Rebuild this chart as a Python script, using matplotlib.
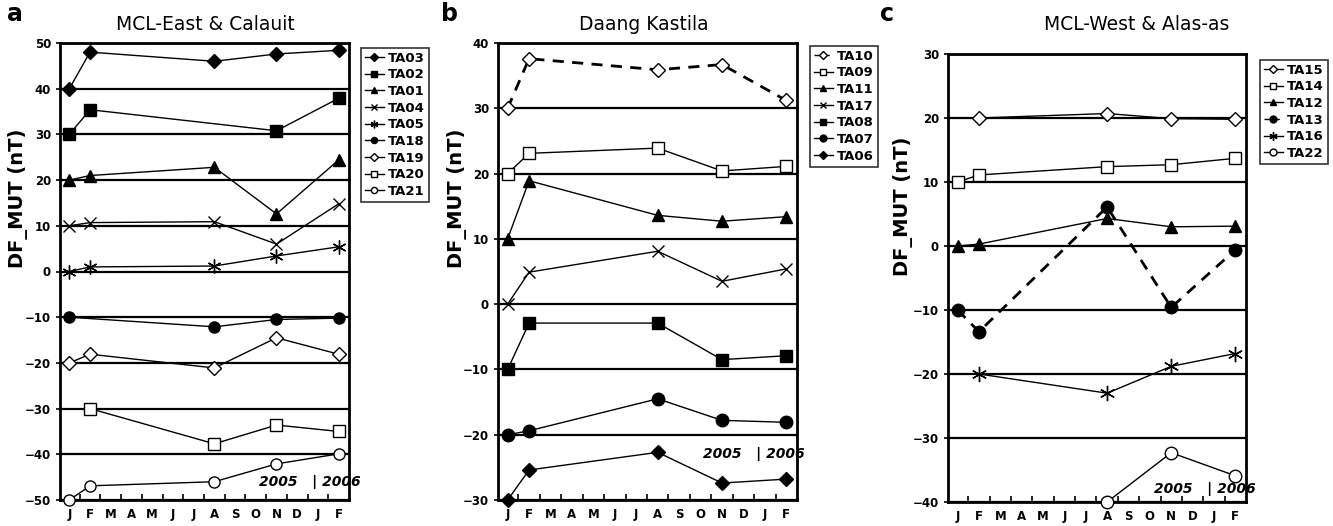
import numpy as np
import matplotlib
matplotlib.use("Agg")
import matplotlib.pyplot as plt

# month axis: Jan 2005 .. Feb 2006
month_labels = ["J", "F", "M", "A", "M", "J", "J", "A", "S", "O", "N", "D", "J", "F"]
JAN, FEB, AUG, NOV, FEB2 = 0, 1, 7, 10, 13

# panel a: MCL-East & Calauit
a_names = ["TA03", "TA02", "TA01", "TA04", "TA05", "TA18", "TA19", "TA20", "TA21"]
a_x = {
    "TA03": [JAN, FEB, AUG, NOV, FEB2],
    "TA02": [JAN, FEB, NOV, FEB2],
    "TA01": [JAN, FEB, AUG, NOV, FEB2],
    "TA04": [JAN, FEB, AUG, NOV, FEB2],
    "TA05": [JAN, FEB, AUG, NOV, FEB2],
    "TA18": [JAN, AUG, NOV, FEB2],
    "TA19": [JAN, FEB, AUG, NOV, FEB2],
    "TA20": [FEB, AUG, NOV, FEB2],
    "TA21": [JAN, FEB, AUG, NOV, FEB2],
}
a_y = {
    "TA03": [40, 48, 46, 47.6, 48.4],
    "TA02": [30, 35.4, 30.8, 37.9],
    "TA01": [20, 21, 22.8, 12.6, 24.4],
    "TA04": [10, 10.7, 10.9, 6.0, 14.8],
    "TA05": [0, 1.0, 1.2, 3.4, 5.4],
    "TA18": [-10, -12.1, -10.5, -10.2],
    "TA19": [-20, -18.1, -21.1, -14.5, -18.1],
    "TA20": [-30, -37.7, -33.6, -35.0],
    "TA21": [-50, -46.9, -46.0, -42.1, -39.9],
}

# panel b: Daang Kastila
b_names = ["TA10", "TA09", "TA11", "TA17", "TA08", "TA07", "TA06"]
b_x = {n: [JAN, FEB, AUG, NOV, FEB2] for n in b_names}
b_y = {
    "TA10": [30, 37.6, 35.9, 36.7, 31.2],
    "TA09": [20, 23.1, 23.9, 20.4, 21.1],
    "TA11": [10, 18.9, 13.6, 12.7, 13.4],
    "TA17": [0, 4.9, 8.1, 3.5, 5.4],
    "TA08": [-10, -2.9, -2.9, -8.5, -7.9],
    "TA07": [-20, -19.4, -14.5, -17.8, -18.1],
    "TA06": [-30, -25.4, -22.7, -27.4, -26.8],
}

# panel c: MCL-West & Alas-as
c_names = ["TA15", "TA14", "TA12", "TA13", "TA16", "TA22"]
c_x = {
    "TA15": [FEB, AUG, NOV, FEB2],
    "TA14": [JAN, FEB, AUG, NOV, FEB2],
    "TA12": [JAN, FEB, AUG, NOV, FEB2],
    "TA13": [JAN, FEB, AUG, NOV, FEB2],
    "TA16": [FEB, AUG, NOV, FEB2],
    "TA22": [AUG, NOV, FEB2],
}
c_y = {
    "TA15": [20, 20.7, 19.9, 19.8],
    "TA14": [10, 11.1, 12.4, 12.7, 13.7],
    "TA12": [0, 0.3, 4.3, 3.0, 3.1],
    "TA13": [-10, -13.4, 6.1, -9.6, -0.6],
    "TA16": [-20, -23.0, -18.8, -16.8],
    "TA22": [-40, -32.3, -35.9],
}

AST = (6, 2, 0)  # six-armed asterisk
# marker styles: (marker, filled, size, linestyle)
styles = {
    "TA03": ("D", True, 7, "-"), "TA02": ("s", True, 8, "-"), "TA01": ("^", True, 8, "-"),
    "TA04": ("x", True, 8, "-"), "TA05": (AST, True, 10, "-"), "TA18": ("o", True, 8, "-"),
    "TA19": ("D", False, 7, "-"), "TA20": ("s", False, 8, "-"), "TA21": ("o", False, 8, "-"),
    "TA10": ("D", False, 7, "--"), "TA09": ("s", False, 9, "-"), "TA11": ("^", True, 8, "-"),
    "TA17": ("x", True, 9, "-"), "TA08": ("s", True, 9, "-"), "TA07": ("o", True, 9, "-"),
    "TA06": ("D", True, 7, "-"),
    "TA15": ("D", False, 7, "-"), "TA14": ("s", False, 9, "-"), "TA12": ("^", True, 8, "-"),
    "TA13": ("o", True, 9, "--"), "TA16": (AST, True, 11, "-"), "TA22": ("o", False, 9, "-"),
}

W, H = 1333, 526
fig = plt.figure(figsize=(W / 100, H / 100), dpi=100)


def px(x0, y0, x1, y1):
    return [x0 / W, 1 - y1 / H, (x1 - x0) / W, (y1 - y0) / H]


def panel(rect, names, xs, ys, ylim, leg_xy, letter_x, title, title_x, yr_x, yr_y, ylab_x):
    ax = fig.add_axes(px(*rect))
    for y in range(ylim[0], ylim[1] + 1, 10):
        ax.axhline(y, color="black", lw=1.6, zorder=1)
    for n in names:
        m, filled, ms, ls = styles[n]
        dashed = ls == "--"
        ax.plot(xs[n], ys[n], color="black", lw=2.0 if dashed else 1.0, ls=ls,
                dashes=(4, 3) if dashed else (None, None),
                marker=m, ms=ms, mfc="black" if filled else "white", mec="black", mew=1.0,
                label=n, zorder=3, clip_on=False)
    ax.set_xlim(-0.45, 13.5)
    ax.set_ylim(*ylim)
    ax.set_yticks(range(ylim[0], ylim[1] + 1, 10))
    ax.set_xticks(range(14))
    ax.set_xticklabels(month_labels)
    ax.set_xticks(np.arange(0.5, 13, 1), minor=True)
    ax.tick_params(axis="x", which="major", length=0, pad=6)
    ax.tick_params(axis="x", which="minor", direction="in", length=4, width=1.2)
    ax.tick_params(axis="y", length=3, width=1.2)
    for lab in ax.get_xticklabels() + ax.get_yticklabels():
        lab.set_fontweight("bold")
        lab.set_fontsize(8.5)
    for s in ax.spines.values():
        s.set_linewidth(2)
    ax.set_ylabel("DF_MUT (nT)", fontsize=14, fontweight="bold")
    ax.yaxis.set_label_coords(ylab_x, 0.66)
    ax.text(yr_x, yr_y, "2005   | 2006", transform=ax.transAxes, fontsize=10,
            fontstyle="italic", fontweight="bold", ha="left", va="center")
    leg = ax.legend(loc="upper left", bbox_to_anchor=(leg_xy[0] / W, 1 - leg_xy[1] / H),
                    bbox_transform=fig.transFigure, frameon=True, fancybox=False,
                    edgecolor="black", fontsize=9.5, handlelength=1.5, handletextpad=0.3,
                    borderpad=0.3, labelspacing=0.28, markerscale=0.55)
    leg.get_frame().set_linewidth(1.2)
    for t in leg.get_texts():
        t.set_fontweight("bold")
    for h in leg.get_lines():
        h.set_linewidth(1.0)
    fig.text(letter_x / W, 1 - 14 / H, title[0], fontsize=17, fontweight="bold", ha="left", va="center")
    fig.text(title_x / W, 1 - 24 / H, title[1], fontsize=13.5, ha="center", va="center")
    return ax


panel((60, 43, 349, 500), a_names, a_x, a_y, (-50, 50), (354, 41), 7,
      ("a", "MCL-East & Calauit"), 205, 0.69, 0.04, -0.11)
panel((498, 43, 797, 500), b_names, b_x, b_y, (-30, 40), (803, 39), 441,
      ("b", "Daang Kastila"), 644, 0.685, 0.10, -0.105)
panel((948, 54, 1246, 502), c_names, c_x, c_y, (-40, 30), (1253, 53), 880,
      ("c", "MCL-West & Alas-as"), 1137, 0.69, 0.03, -0.117)

fig.savefig("out.png", dpi=100)
